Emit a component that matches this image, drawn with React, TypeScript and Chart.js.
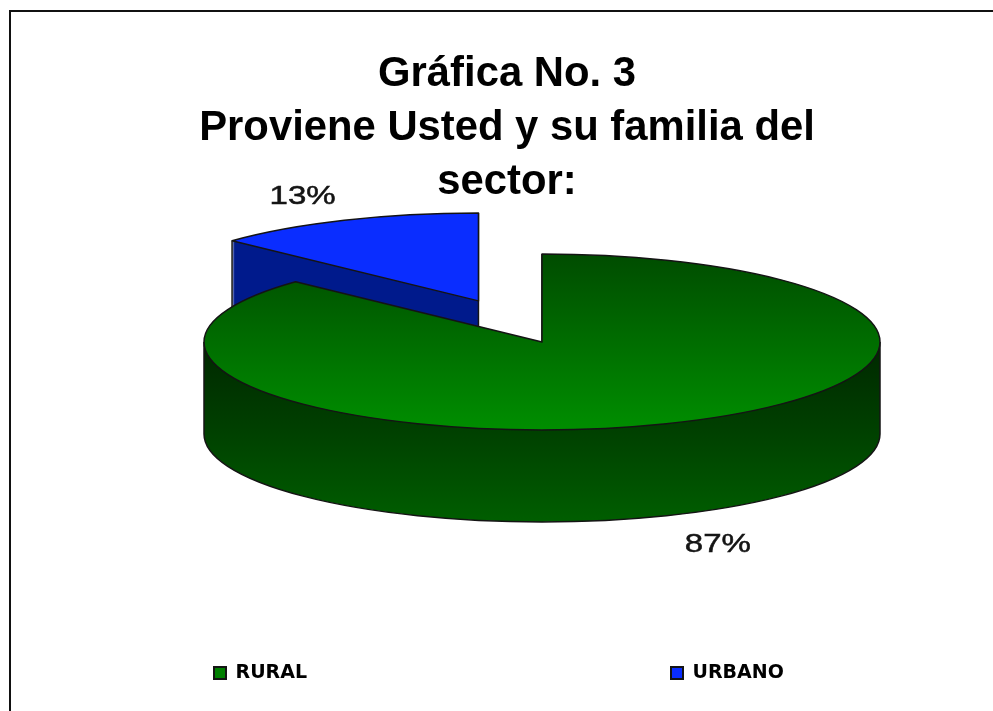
import React, { useEffect, useRef } from "react";
import { Chart, registerables } from "chart.js";

Chart.register(...registerables);

const categories = ["RURAL", "URBANO"];
const shares = [87, 13];
const baseColors = ["#007f00", "#0a2dff"];
const titleLines = ["Gráfica No. 3", "Proviene Usted y su familia del", "sector:"];

// 3D projection of the flat pie
const SQUASH = 0.26;
const EXPLODE_SQUASH = 0.28;
const RADIUS = 338;
const DEPTH = 92;
const CENTER = { x: 542, y: 342 };
const EXPLODE = [0, 160];
const LINE = "#141414";
// [screen y, colour] stops for the shaded faces
const TOP_STOPS = [
  [[254, "#004c00"], [430, "#008e00"]],
  [[214, "#0a2dff"], [301, "#0a2dff"]],
];
const SIDE_STOPS = [
  [[345, "#002800"], [430, "#004000"], [522, "#005e00"]],
  [[240, "#001a8c"], [330, "#001a8c"]],
];
const LEGEND = { left: 214, midY: 673, font: 19, box: 12 };

function origin(arc: any, i: number) {
  const mid = (arc.startAngle + arc.endAngle) / 2;
  return {
    x: CENTER.x + Math.cos(mid) * EXPLODE[i],
    y: CENTER.y + Math.sin(mid) * EXPLODE[i] * EXPLODE_SQUASH,
    mid,
  };
}

function drawArcAt(ctx: CanvasRenderingContext2D, arc: any, ox: number, oy: number, stops: any[]) {
  const e = oy - arc.y * SQUASH;
  ctx.save();
  ctx.transform(1, 0, 0, SQUASH, ox - arc.x, e);
  const g = ctx.createLinearGradient(0, (stops[0][0] - e) / SQUASH, 0, (stops[stops.length - 1][0] - e) / SQUASH);
  const y0 = stops[0][0];
  const span = stops[stops.length - 1][0] - y0;
  stops.forEach((s: any) => g.addColorStop((s[0] - y0) / span, s[1]));
  const view = Object.create(arc, {
    options: { value: Object.create(arc.options, { backgroundColor: { value: g } }) },
  });
  arc.draw.call(view, ctx);
  ctx.restore();
}

const pie3d = {
  id: "pie3d",
  afterLayout(chart: any) {
    const t = chart.titleBlock;
    t.left += 21;
    const lg = chart.legend;
    const pad = lg.options.labels.padding;
    lg.left = LEGEND.left - pad;
    lg.right = 4000;
    lg.top = LEGEND.midY - LEGEND.font / 2 - pad;
  },
  beforeDatasetsDraw(chart: any) {
    const ctx: CanvasRenderingContext2D = chart.ctx;
    const arcs = chart.getDatasetMeta(0).data;
    ctx.save();
    ctx.strokeStyle = LINE;
    ctx.lineWidth = 1.5;
    ctx.lineJoin = "round";
    [1, 0].forEach((i) => {
      const arc = arcs[i];
      const o = origin(arc, i);
      const a0 = arc.startAngle;
      const a1 = arc.endAngle;
      const ry = RADIUS * SQUASH;
      for (let d = DEPTH; d >= 1; d--) drawArcAt(ctx, arc, o.x, o.y + d, SIDE_STOPS[i]);
      // side outline
      ctx.beginPath();
      const verticals = [
        [o.x + Math.cos(a0) * RADIUS, o.y + Math.sin(a0) * ry],
        [o.x + Math.cos(a1) * RADIUS, o.y + Math.sin(a1) * ry],
      ];
      if (a1 - a0 < Math.PI) verticals.push([o.x, o.y]);
      const lo = Math.max(a0, 0);
      const hi = Math.min(a1, Math.PI);
      if (hi > lo) {
        verticals.push([o.x + Math.cos(lo) * RADIUS, o.y + Math.sin(lo) * ry]);
        verticals.push([o.x + Math.cos(hi) * RADIUS, o.y + Math.sin(hi) * ry]);
      }
      verticals.forEach(([x, y]) => {
        ctx.moveTo(x, y);
        ctx.lineTo(x, y + DEPTH);
      });
      if (hi > lo) {
        ctx.moveTo(o.x + Math.cos(lo) * RADIUS, o.y + DEPTH + Math.sin(lo) * ry);
        ctx.ellipse(o.x, o.y + DEPTH, RADIUS, ry, 0, lo, hi);
      }
      ctx.stroke();
      // top face
      drawArcAt(ctx, arc, o.x, o.y, TOP_STOPS[i]);
      ctx.beginPath();
      ctx.moveTo(o.x, o.y);
      ctx.ellipse(o.x, o.y, RADIUS, ry, 0, a0, a1);
      ctx.closePath();
      ctx.stroke();
    });
    ctx.restore();
    return false;
  },
  afterDraw(chart: any) {
    const ctx: CanvasRenderingContext2D = chart.ctx;
    const arcs = chart.getDatasetMeta(0).data;
    const total = shares.reduce((a, b) => a + b, 0);
    arcs.forEach((arc: any, i: number) => {
      const o = origin(arc, i);
      const f = 1.31;
      const x = o.x + Math.cos(o.mid) * RADIUS * f;
      const sin = Math.sin(o.mid);
      const y = o.y + sin * RADIUS * SQUASH * f + (sin > 0 ? DEPTH + 5 : 2);
      const text = `${Math.round((shares[i] / total) * 100)}%`;
      ctx.save();
      ctx.translate(x, y);
      ctx.scale(1.32, 1);
      ctx.font = "25px 'Liberation Sans'";
      ctx.fillStyle = "#141414";
      ctx.strokeStyle = "#141414";
      ctx.lineWidth = 0.5;
      ctx.textAlign = "center";
      ctx.textBaseline = "middle";
      ctx.fillText(text, 0, 0);
      ctx.strokeText(text, 0, 0);
      ctx.restore();
    });
  },
};

export default function App() {
  const ref = useRef<HTMLCanvasElement | null>(null);
  useEffect(() => {
    if (!ref.current) return;
    const chart = new Chart(ref.current, {
      type: "pie",
      data: {
        labels: categories,
        datasets: [{ data: shares, backgroundColor: baseColors, borderWidth: 0 }],
      },
      options: {
        animation: false,
        responsive: false,
        events: [],
        radius: RADIUS,
        layout: { padding: 0 },
        plugins: {
          tooltip: { enabled: false },
          title: {
            display: true,
            text: titleLines,
            color: "#000",
            font: { family: "'Liberation Sans'", size: 41.8, weight: "bold", lineHeight: 1.29 },
            padding: { top: 48, bottom: 0 },
          },
          legend: {
            position: "bottom",
            align: "start",
            maxHeight: 40,
            labels: {
              color: "#141414",
              font: { family: "'DejaVu Sans'", size: LEGEND.font, weight: "bold" },
              boxWidth: LEGEND.box,
              boxHeight: LEGEND.box,
              padding: 364,
              generateLabels: () =>
                categories.map((text, index) => ({
                  text,
                  index,
                  fillStyle: baseColors[index],
                  strokeStyle: LINE,
                  lineWidth: 2,
                  hidden: false,
                })),
            },
          },
        },
      } as any,
      plugins: [pie3d],
    });
    return () => chart.destroy();
  }, []);
  return (
    <div style={{ position: "fixed", left: 0, top: 0, width: 993, height: 711, background: "#fff", overflow: "hidden" }}>
      <canvas ref={ref} width={993} height={711} style={{ display: "block" }} />
      <div
        style={{
          position: "absolute",
          left: 9,
          top: 10,
          right: 0,
          bottom: 0,
          borderLeft: "2px solid #111",
          borderTop: "2px solid #111",
          pointerEvents: "none",
        }}
      />
    </div>
  );
}
